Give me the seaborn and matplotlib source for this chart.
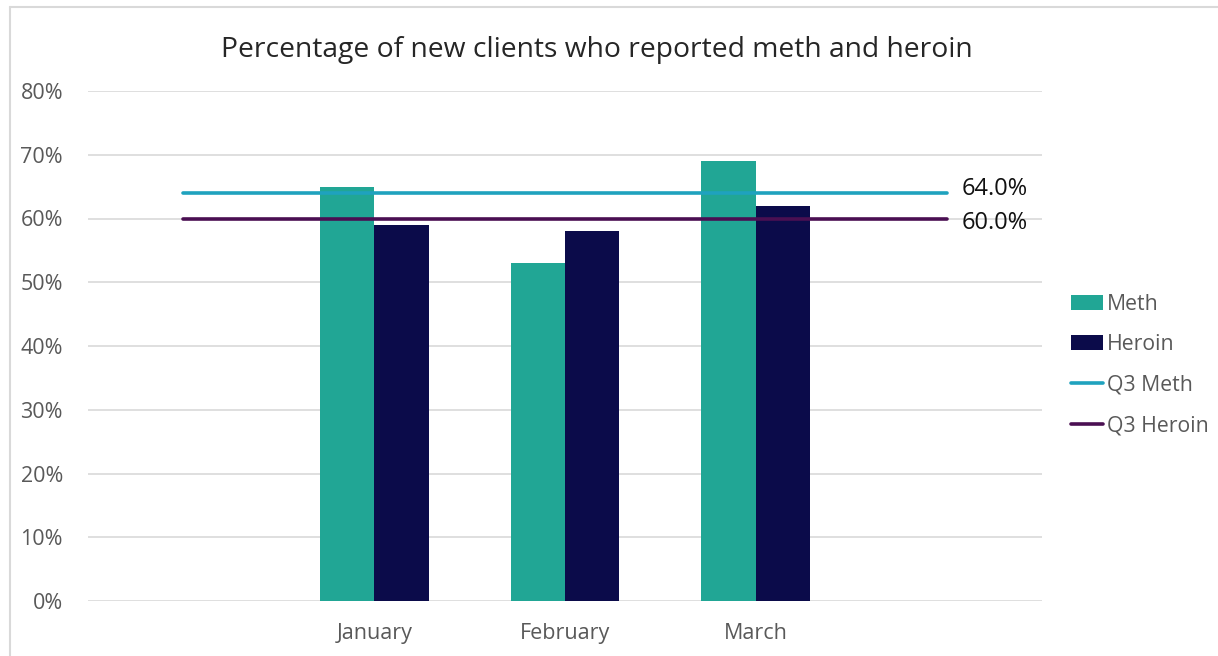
import matplotlib
matplotlib.use("Agg")
import matplotlib.pyplot as plt
import seaborn as sns
import pandas as pd
from matplotlib.patches import Patch
from matplotlib.lines import Line2D

months = ["January", "February", "March"]
meth = [65, 53, 69]
heroin = [59, 58, 62]
q3_meth = 64.0
q3_heroin = 60.0
series_names = ["Meth", "Heroin"]
order = [" ", "January", "February", "March", "  "]

c_meth = "#21A695"
c_heroin = "#0B0B4A"
c_q3m = "#1FA2BE"
c_q3h = "#4A0F52"

sns.set_theme(style="white")
plt.rcParams['font.family'] = ['Open Sans', 'DejaVu Sans']

df = pd.DataFrame({
    "month": months * 2,
    "pct": meth + heroin,
    "series": ["Meth"] * 3 + ["Heroin"] * 3,
})

fig = plt.figure(figsize=(12.18, 6.56), dpi=100)
ax = fig.add_axes([88 / 1218, 1 - 601 / 656, (1042 - 88) / 1218, (601 - 91) / 656])

sns.barplot(data=df, x="month", y="pct", hue="series", order=order,
            hue_order=series_names, palette=[c_meth, c_heroin],
            width=0.57, ax=ax, legend=False, saturation=1, linewidth=0)

ax.plot([0, len(order) - 1], [q3_meth, q3_meth], color=c_q3m, lw=2.6,
        solid_capstyle="round", zorder=5)
ax.plot([0, len(order) - 1], [q3_heroin, q3_heroin], color=c_q3h, lw=2.6,
        solid_capstyle="round", zorder=5)
ax.text(len(order) - 1 + 0.08, q3_meth + 0.6, f"{q3_meth:.1f}%", va="center", ha="left",
        fontsize=17, color="#111111")
ax.text(len(order) - 1 + 0.08, q3_heroin - 0.7, f"{q3_heroin:.1f}%", va="center", ha="left",
        fontsize=17, color="#111111")

ax.set_xlim(-0.5, len(order) - 0.5)
ax.set_ylim(0, 80)
ax.set_yticks(range(0, 81, 10))
ax.set_yticklabels([f"{v}%" for v in range(0, 81, 10)])
ax.yaxis.grid(True, color="#D9D9D9", lw=1.2)
ax.set_axisbelow(True)
for s in ax.spines.values():
    s.set_visible(False)
ax.tick_params(axis="y", length=0, pad=18, labelsize=15.5, labelcolor="#595959")
ax.tick_params(axis="x", length=0, pad=16, labelsize=15.5, labelcolor="#595959")
ax.set_xlabel("")
ax.set_ylabel("")

fig.text(597 / 1218, 1 - 50 / 656, "Percentage of new clients who reported meth and heroin",
         ha="center", va="center", fontsize=20.3, color="#262626")

handles = [
    Patch(facecolor=c_meth, edgecolor="none", label="Meth"),
    Patch(facecolor=c_heroin, edgecolor="none", label="Heroin"),
    Line2D([0], [0], color=c_q3m, lw=2.6, label="Q3 Meth"),
    Line2D([0], [0], color=c_q3h, lw=2.6, label="Q3 Heroin"),
]
leg = fig.legend(handles=handles, loc="upper left", bbox_to_anchor=(1062 / 1218, 1 - 285 / 656),
                 frameon=False, fontsize=15.3, labelcolor="#595959", handlelength=1.55,
                 handletextpad=0.15, labelspacing=0.92, borderaxespad=0)

# chart border
fig.add_artist(Line2D([10 / 1218, 10 / 1218], [0, 1 - 7 / 656], color="#D9D9D9", lw=1.5,
                      transform=fig.transFigure))
fig.add_artist(Line2D([10 / 1218, 1], [1 - 7 / 656, 1 - 7 / 656], color="#D9D9D9", lw=1.5,
                      transform=fig.transFigure))

fig.savefig("out.png", dpi=100)
